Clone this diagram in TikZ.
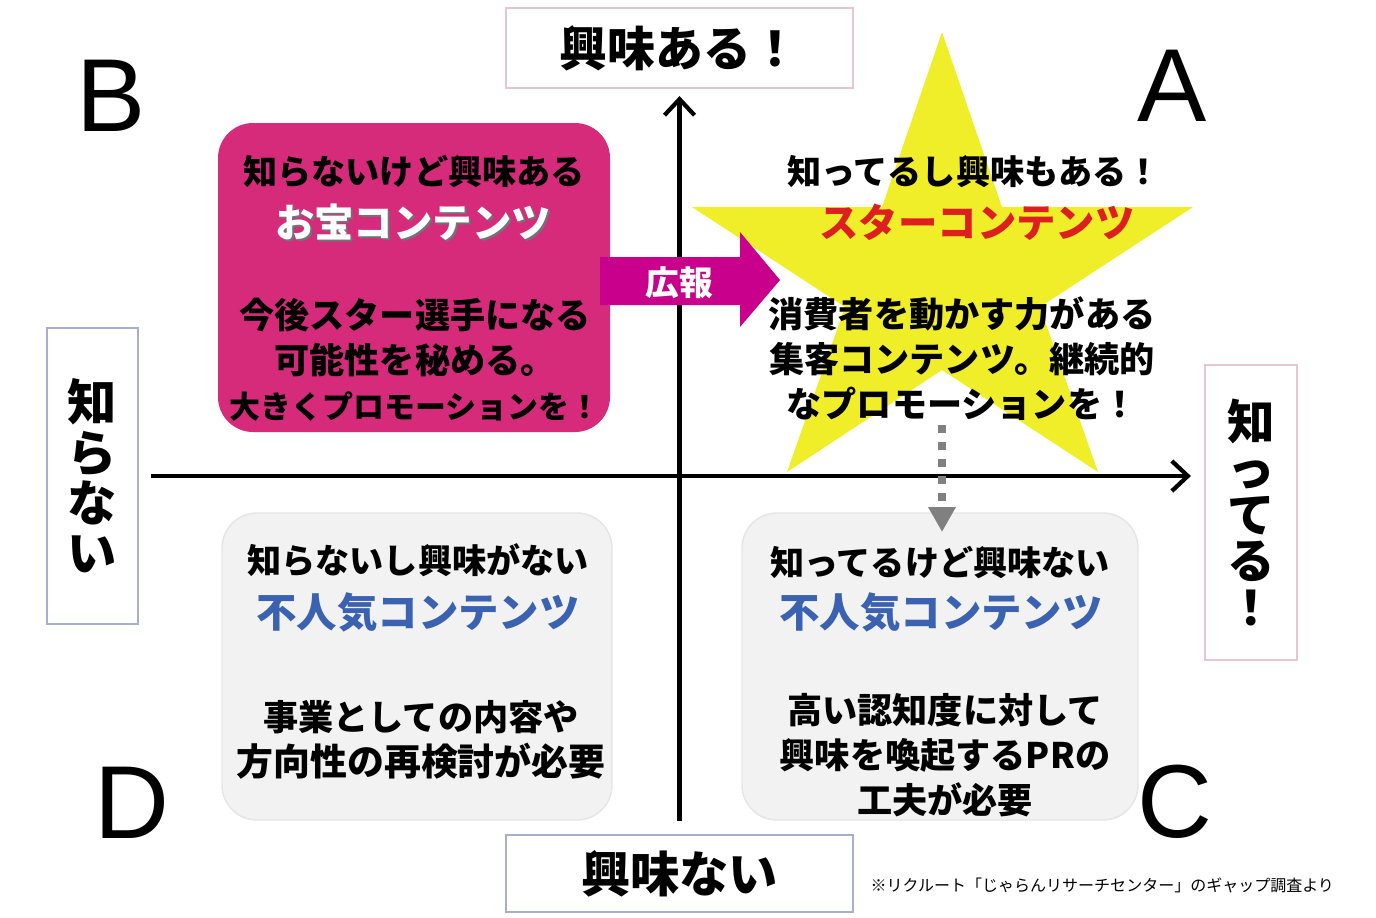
\documentclass[tikz,border=0pt]{standalone}
\usepackage{fontspec}
\setmainfont{Noto Sans CJK JP}
\newfontfamily\latinsf{Liberation Sans}
\usepackage{xcolor}
\usepackage{tikz}
\usetikzlibrary{calc}
\usetikzlibrary{arrows.meta}

\definecolor{takara}{HTML}{D62A7B}
\definecolor{kouho}{HTML}{C8008C}
\definecolor{starfill}{HTML}{F0EE28}
\definecolor{starred}{HTML}{DE1F1F}
\definecolor{ninkiblue}{HTML}{3A62B0}
\definecolor{pinkline}{HTML}{E6C6D0}
\definecolor{blueline}{HTML}{A8AECB}

\begin{document}
\begin{tikzpicture}[x=0.01cm,y=-0.01cm,
  quest/.style={inner sep=0pt,font=\bfseries\fontsize{9.7}{12}\selectfont},
  cname/.style={inner sep=0pt,font=\bfseries\fontsize{11.2}{13}\selectfont},
  desc/.style={inner sep=0pt,align=center,font=\bfseries\fontsize{10}{12.8}\selectfont},
  lblbox/.style={draw,line width=0.6pt,fill=white,inner sep=0pt,align=center},
  letter/.style={inner sep=0pt,font=\latinsf\fontsize{29.5}{32}\selectfont},
  axis/.style={line width=1.2pt,-{Straight Barb[length=1.6mm,width=3mm]}}]
\useasboundingbox (0,0) rectangle (1376,917);

% Axis labels
\node[lblbox,draw=pinkline,minimum width=3.47cm,minimum height=0.8cm,
  font=\bfseries\fontsize{13.6}{14}\selectfont] (interest) at (679.5,48) {興味ある！};
\node[lblbox,draw=blueline,minimum width=3.47cm,minimum height=0.77cm,
  font=\bfseries\fontsize{14}{15}\selectfont] (nointerest) at (679.5,873.5) {興味ない};
\node[lblbox,draw=blueline,minimum width=0.91cm,minimum height=2.96cm,
  font=\bfseries\fontsize{14}{14.3}\selectfont] (unknown) at (92.5,476) {知\\ら\\な\\い};
\node[lblbox,draw=pinkline,minimum width=0.92cm,minimum height=2.95cm,
  font=\bfseries\fontsize{13.5}{13.2}\selectfont] (known) at (1251,512.5) {知\\っ\\て\\る\\！};

% Star
\fill[starfill] (942,32) -- (1002,207) -- (1193,207) -- (1040,307) -- (1098,472)
  -- (942,370) -- (787,472) -- (845,307) -- (692,207) -- (882,207) -- cycle;

% Axes
\draw[axis,shorten <=0.13cm,shorten >=0.07cm] (nointerest.north) -- (interest.south);
\draw[axis,shorten <=0.12cm,shorten >=0.13cm] (unknown.east) -- (known.west |- unknown.east);

% Quadrant B
\fill[takara,rounded corners=0.35cm] (218,123) rectangle (610,432);
\node[quest] (bq) at (414,172) {知らないけど興味ある};
\node[cname,text=black!55] (bshadow) at (415,224) {お宝コンテンツ};
\node[cname,text=white] (bname) at (413,222) {お宝コンテンツ};
\node[desc] (bdesc) at (415,360) {今後スター選手になる\\可能性を秘める。\\{\fontsize{8.8}{12.8}\selectfont 大きくプロモーションを！}};

% Quadrant A
\node[quest] (aq) at (974,172) {知ってるし興味もある！};
\node[cname,text=starred] (aname) at (977,222) {スターコンテンツ};
\node[desc] (adesc) at (962,359) {消費者を動かす力がある\\集客コンテンツ。継続的\\なプロモーションを！};

% Quadrant D
\fill[black!5,draw=black!10,rounded corners=0.35cm] (222,513) rectangle (612,820);
\node[quest] (dq) at (418,560) {知らないし興味がない};
\node[cname,text=ninkiblue,font=\bfseries\fontsize{11.5}{13}\selectfont] (dname) at (418,612) {不人気コンテンツ};
\node[desc] (ddesc) at (421,740) {事業としての内容や\\{\fontsize{10.5}{12.8}\selectfont 方向性の再検討が必要}};

% Quadrant C
\fill[black!5,draw=black!10,rounded corners=0.35cm] (742,513) rectangle (1138,820);
\node[quest] (cq) at (940,562) {知ってるけど興味ない};
\node[cname,text=ninkiblue,font=\bfseries\fontsize{11.5}{13}\selectfont] (cname) at (941,612) {不人気コンテンツ};
\node[desc] (cdesc) at (945,755) {高い認知度に対して\\興味を喚起するPRの\\工夫が必要};

% Promotion arrow
\fill[kouho] (600,257) -- (740,257) -- (740,232) -- (780,280) -- (740,327)
  -- (740,305) -- (600,305) -- cycle;
\node[inner sep=0pt,text=white,font=\bfseries\fontsize{9.6}{11}\selectfont] (kouho) at (679,283) {広報};

% Dotted arrow down to C
\coordinate (dotstart) at (942,425);
\coordinate (dotend) at (942,532);
\draw[black!50,line width=0.08cm,dash pattern=on 0.08cm off 0.09cm,
  -{Triangle[length=0.25cm,width=0.26cm]}] (dotstart) -- (dotend);

% Letters
\node[letter] (lb) at (111,96) {B};
\node[letter] (la) at (1172,86) {A};
\node[letter] (ld) at (132,803) {D};
\node[letter] (lc) at (1175,802) {C};

% Source
\node[inner sep=0pt,anchor=west,font=\fontsize{4.55}{6}\selectfont] (src) at (870,885)
  {※リクルート「じゃらんリサーチセンター」のギャップ調査より};
\end{tikzpicture}
\end{document}
